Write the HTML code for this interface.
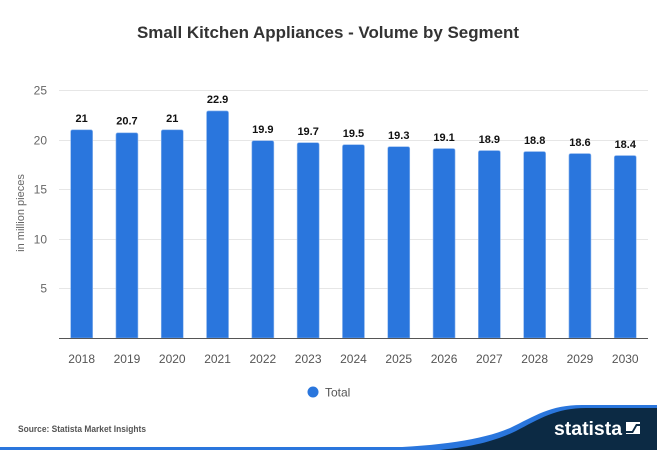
<!DOCTYPE html>
<html><head><meta charset="utf-8"><style>
html,body{margin:0;padding:0;background:#fff;}
svg{display:block;font-family:"Liberation Sans",Arial,sans-serif;}
</style></head><body>
<svg width="657" height="450" viewBox="0 0 657 450" xmlns="http://www.w3.org/2000/svg">
<rect width="657" height="450" fill="#fff"/>
<text x="137" y="38" font-size="17" font-weight="bold" fill="#333" textLength="382" lengthAdjust="spacingAndGlyphs">Small Kitchen Appliances - Volume by Segment</text>
<g stroke="#e6e6e6" stroke-width="1">
<line x1="59" y1="90.5" x2="648" y2="90.5"/>
<line x1="59" y1="140.5" x2="648" y2="140.5"/>
<line x1="59" y1="189.5" x2="648" y2="189.5"/>
<line x1="59" y1="239.5" x2="648" y2="239.5"/>
<line x1="59" y1="288.5" x2="648" y2="288.5"/>
</g>
<g font-size="12" fill="#666" text-anchor="end">
<text x="47" y="94.5">25</text>
<text x="47" y="144.5">20</text>
<text x="47" y="193.5">15</text>
<text x="47" y="243.5">10</text>
<text x="47" y="292.5">5</text>
</g>
<text transform="translate(24,213) rotate(-90)" font-size="11" fill="#666" text-anchor="middle">in million pieces</text>
<g fill="#2a76dd" stroke="#8fb7ee" stroke-width="0.6">
<path d="M70.65 338 V131.8 Q70.65 129.8 72.65 129.8 H90.65 Q92.65 129.8 92.65 131.8 V338 Z"/>
<path d="M115.95 338 V134.8 Q115.95 132.8 117.95 132.8 H135.95 Q137.95 132.8 137.95 134.8 V338 Z"/>
<path d="M161.25 338 V131.8 Q161.25 129.8 163.25 129.8 H181.25 Q183.25 129.8 183.25 131.8 V338 Z"/>
<path d="M206.55 338 V112.9 Q206.55 110.9 208.55 110.9 H226.55 Q228.55 110.9 228.55 112.9 V338 Z"/>
<path d="M251.85 338 V142.7 Q251.85 140.7 253.85 140.7 H271.85 Q273.85 140.7 273.85 142.7 V338 Z"/>
<path d="M297.15 338 V144.7 Q297.15 142.7 299.15 142.7 H317.15 Q319.15 142.7 319.15 144.7 V338 Z"/>
<path d="M342.45 338 V146.7 Q342.45 144.7 344.45 144.7 H362.45 Q364.45 144.7 364.45 146.7 V338 Z"/>
<path d="M387.75 338 V148.7 Q387.75 146.7 389.75 146.7 H407.75 Q409.75 146.7 409.75 148.7 V338 Z"/>
<path d="M433.05 338 V150.6 Q433.05 148.6 435.05 148.6 H453.05 Q455.05 148.6 455.05 150.6 V338 Z"/>
<path d="M478.35 338 V152.6 Q478.35 150.6 480.35 150.6 H498.35 Q500.35 150.6 500.35 152.6 V338 Z"/>
<path d="M523.65 338 V153.6 Q523.65 151.6 525.65 151.6 H543.65 Q545.65 151.6 545.65 153.6 V338 Z"/>
<path d="M568.95 338 V155.6 Q568.95 153.6 570.95 153.6 H588.95 Q590.95 153.6 590.95 155.6 V338 Z"/>
<path d="M614.25 338 V157.6 Q614.25 155.6 616.25 155.6 H634.25 Q636.25 155.6 636.25 157.6 V338 Z"/>
</g>
<line x1="59" y1="338.5" x2="648" y2="338.5" stroke="#555" stroke-width="1"/>
<g font-size="11" font-weight="bold" fill="#111" text-anchor="middle">
<text x="81.65" y="122">21</text>
<text x="126.95" y="124.5">20.7</text>
<text x="172.25" y="122">21</text>
<text x="217.55" y="103">22.9</text>
<text x="262.85" y="133">19.9</text>
<text x="308.15" y="135">19.7</text>
<text x="353.45" y="137">19.5</text>
<text x="398.75" y="139">19.3</text>
<text x="444.05" y="141">19.1</text>
<text x="489.35" y="143">18.9</text>
<text x="534.65" y="144">18.8</text>
<text x="579.95" y="146">18.6</text>
<text x="625.25" y="148">18.4</text>
</g>
<g font-size="12" fill="#555" text-anchor="middle">
<text x="81.65" y="363">2018</text>
<text x="126.95" y="363">2019</text>
<text x="172.25" y="363">2020</text>
<text x="217.55" y="363">2021</text>
<text x="262.85" y="363">2022</text>
<text x="308.15" y="363">2023</text>
<text x="353.45" y="363">2024</text>
<text x="398.75" y="363">2025</text>
<text x="444.05" y="363">2026</text>
<text x="489.35" y="363">2027</text>
<text x="534.65" y="363">2028</text>
<text x="579.95" y="363">2029</text>
<text x="625.25" y="363">2030</text>
</g>
<circle cx="313" cy="392" r="5.5" fill="#2a76dd"/>
<text x="325" y="396.5" font-size="12" fill="#555">Total</text>
<text x="18" y="432" font-size="9" font-weight="bold" fill="#555" textLength="128" lengthAdjust="spacingAndGlyphs">Source: Statista Market Insights</text>
<!-- footer -->
<rect x="0" y="447" width="657" height="3" fill="#2a76dd"/>
<path d="M380 448 C440 446,482 440,510 428 C535 416,550 405,582 405 L657 405 L657 450 L380 450 Z" fill="#2a76dd"/>
<path d="M440 450 C478 446,497 440,516 431 C539 419,556 408,586 408 L657 408 L657 450 Z" fill="#0c2a44"/>
<text x="554" y="435" font-size="19" font-weight="bold" fill="#fff" textLength="68" lengthAdjust="spacingAndGlyphs">statista</text>
<rect x="626" y="422" width="14" height="12" fill="#fff"/>
<path d="M626 431 L632 431 L636 424 L640 424 L640 426 L637 426 L633 433 L626 433 Z" fill="#0c2a44"/>
</svg>
</body></html>
